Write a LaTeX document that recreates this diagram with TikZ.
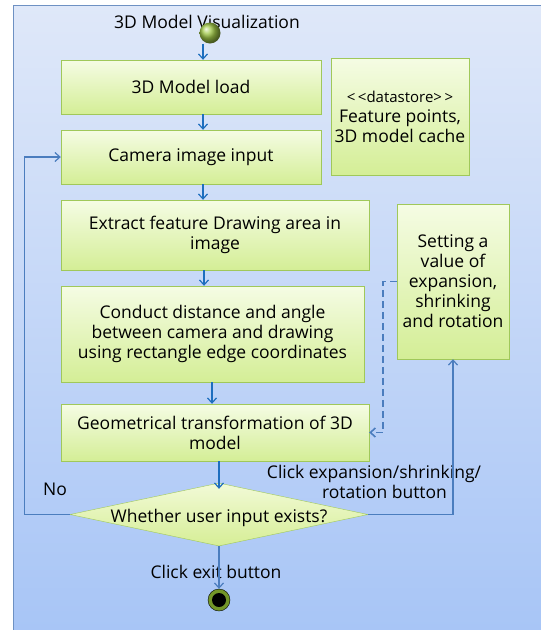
\documentclass[tikz,border=0pt]{standalone}
\usepackage{fontspec}
\setmainfont{Open Sans}
\usepackage{tikz}
\usetikzlibrary{shapes.geometric,arrows.meta}
\definecolor{boxline}{RGB}{160,200,90}
\definecolor{flowblue}{RGB}{30,110,190}
\definecolor{loopblue}{RGB}{75,125,190}
\tikzstyle{act}=[top color={rgb,255: red,245; green,252; blue,228}, bottom color={rgb,255: red,212; green,238; blue,150}, draw=boxline, shape=rectangle, align=center, inner sep=2pt, font=\fontsize{17.5}{20}\selectfont]
\tikzstyle{decide}=[top color={rgb,255: red,242; green,250; blue,215}, bottom color={rgb,255: red,214; green,238; blue,150}, draw=boxline, shape=diamond, minimum width=298pt, minimum height=63pt, inner sep=0pt]
\tikzstyle{lbl}=[align=center, font=\fontsize{17.5}{20}\selectfont]
\tikzstyle{flow}=[-{Straight Barb[length=5pt,width=9pt]}, draw=flowblue, line width=1.2pt]
\tikzstyle{back}=[-{Straight Barb[length=5pt,width=9pt]}, draw=loopblue, line width=1.2pt]
\tikzstyle{ref}=[-{Straight Barb[length=5pt,width=9pt]}, draw=loopblue, line width=1.6pt, dash pattern=on 7pt off 4pt]

\begin{document}
\begin{tikzpicture}[x=1pt, y=-1pt]
	\useasboundingbox (0, 0) rectangle (541, 630);
	\clip (0, 0) rectangle (541, 630);
	\draw [draw={rgb,255: red,110; green,145; blue,195}, top color={rgb,255: red,223; green,232; blue,249}, bottom color={rgb,255: red,166; green,196; blue,246}] (13, 5) rectangle (560, 650);

	\node [style=lbl] (11) at (207, 22) {3D Model Visualization};
	\node [circle, minimum size=21pt, inner sep=0pt, shading=ball, ball color={rgb,255: red,160; green,200; blue,70}] (0) at (210, 33) {};
	\node [style=act, minimum width=260pt, minimum height=54pt] (1) at (191, 87) {3D Model load};
	\node [style=act, minimum width=138pt, minimum height=117pt] (6) at (400, 116.5) {{\fontsize{15}{19}\selectfont <\,<datastore>\,>}\\Feature points,\\3D model cache};
	\node [style=act, minimum width=260pt, minimum height=54pt] (2) at (191, 157) {Camera image input};
	\node [style=act, minimum width=308pt, minimum height=70pt] (3) at (215, 235) {Extract feature Drawing area in\\image};
	\node [style=act, minimum width=303pt, minimum height=96pt] (4) at (212.5, 334) {Conduct distance and angle\\between camera and drawing\\using rectangle edge coordinates};
	\node [style=act, minimum width=112pt, minimum height=155pt] (7) at (453, 281.5) {Setting a\\value of\\expansion,\\shrinking\\and rotation};
	\node [style=act, minimum width=308pt, minimum height=57pt] (5) at (215, 432.5) {Geometrical transformation of 3D\\model};
	\node [style=decide, label={[style=lbl, yshift=-3pt]center:Whether user input exists?}] (8) at (219, 514.5) {};
	\node [circle, minimum size=22pt, inner sep=0pt, draw=black, fill={rgb,255: red,115; green,150; blue,40}] (10) at (219, 600) {};
	\fill [black] (10.center) circle (7);

	\node [style=lbl] (12) at (55, 489) {No};
	\node [style=lbl] (13) at (374, 482) {Click expansion/shrinking/\\\hspace*{1.2em}rotation button};
	\node [style=lbl] (14) at (216, 572) {Click exit button};

	\draw [style=flow] ([xshift=-7]0.south) to ([xshift=12]1.north);
	\draw [style=flow] ([xshift=12]1.south) to ([xshift=12]2.north);
	\draw [style=flow] ([xshift=12]2.south) to ([xshift=-12]3.north);
	\draw [style=flow] ([xshift=-11]3.south) to ([xshift=-8.5]4.north);
	\draw [style=flow] ([xshift=-0.5]4.south) to ([xshift=-3]5.north);
	\draw [style=flow] ([xshift=4]5.south) to ([yshift=-6]8.north);
	\draw [style=back] (8.west) -- ++(-45, 0) |- (2.west);
	\draw [style=back] (8.east) -| (7.south);
	\draw [style=ref] (7.west) -| ([xshift=14]5.east) -- (5.east);
	\draw [style=back] (8.south) to (10.north);
\end{tikzpicture}
\end{document}
